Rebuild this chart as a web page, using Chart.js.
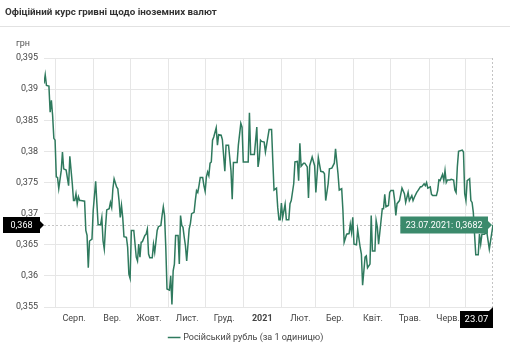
<!DOCTYPE html>
<html>
<head>
<meta charset="utf-8">
<script src="https://cdn.jsdelivr.net/npm/chart.js@4.4.1/dist/chart.umd.min.js"></script>
<style>
  body { margin: 0; background: #fff; font-family: Roboto, sans-serif; }
  #wrap { position: relative; width: 510px; height: 350px; }
  canvas { position: absolute; left: 0; top: 0; }
  #title { position: absolute; left: 5px; top: 6px; font-size: 9.8px; font-weight: bold; color: #333; }
  #sep { position: absolute; left: 0; top: 26px; width: 510px; height: 1px; background: #e2e2e2; }
</style>
</head>
<body>
<div id="wrap">
  <canvas id="rateChart" width="510" height="350"></canvas>
  <div id="title">Офіційний курс гривні щодо іноземних валют</div>
  <div id="sep"></div>
</div>
<script>
// days since startDate (23.07.2020) and the NBU rate for 1 RUB on that day
const startDate = '2020-07-23';
const days = [
  0, 1, 2, 4, 5, 6, 7, 8, 9, 10,
  11, 12, 14, 15, 16, 18, 20, 21, 23, 24,
  25, 26, 27, 28, 29, 30, 33, 34, 35, 36,
  37, 39, 40, 42, 43, 44, 46, 47, 48, 49,
  50, 51, 53, 54, 55, 56, 57, 59, 60, 61,
  62, 63, 64, 65, 67, 68, 69, 70, 71, 73,
  75, 76, 77, 78, 79, 80, 82, 83, 84, 85,
  86, 88, 89, 90, 92, 93, 95, 96, 97, 98,
  99, 100, 102, 103, 104, 105, 106, 107, 109, 110,
  111, 112, 113, 114, 115, 116, 118, 119, 120, 122,
  123, 124, 125, 126, 127, 129, 130, 131, 132, 133,
  134, 135, 136, 137, 138, 140, 141, 142, 144, 145,
  147, 148, 150, 152, 153, 154, 157, 158, 160, 161,
  162, 164, 166, 167, 168, 171, 173, 174, 175, 176,
  177, 179, 180, 182, 183, 185, 186, 187, 189, 190,
  191, 192, 193, 194, 196, 197, 199, 200, 201, 203,
  204, 206, 207, 208, 209, 211, 212, 214, 215, 216,
  218, 220, 221, 223, 225, 227, 228, 229, 231, 232,
  234, 236, 237, 239, 240, 242, 243, 244, 246, 248,
  249, 250, 251, 252, 254, 255, 257, 258, 259, 261,
  262, 263, 265, 266, 267, 269, 270, 271, 272, 274,
  275, 276, 277, 278, 280, 281, 282, 284, 285, 286,
  287, 289, 291, 293, 294, 296, 297, 299, 300, 301,
  303, 304, 306, 307, 309, 310, 311, 312, 314, 315,
  316, 319, 320, 321, 322, 324, 325, 326, 327, 328,
  330, 331, 333, 334, 335, 336, 337, 340, 341, 342,
  343, 344, 346, 347, 348, 349, 350, 351, 353, 354,
  355, 356, 358, 360, 362, 365
];
const rates = [
  0.3909, 0.3923, 0.3906, 0.3905, 0.3863, 0.3882, 0.3858, 0.3821, 0.3818, 0.3759,
  0.3758, 0.3740, 0.3769, 0.3799, 0.3772, 0.3770, 0.3745, 0.3792, 0.3748, 0.3721,
  0.3721, 0.3732, 0.3716, 0.3727, 0.3721, 0.3721, 0.3720, 0.3673, 0.3665, 0.3613,
  0.3656, 0.3659, 0.3705, 0.3752, 0.3716, 0.3682, 0.3682, 0.3694, 0.3656, 0.3643,
  0.3678, 0.3706, 0.3708, 0.3718, 0.3710, 0.3740, 0.3756, 0.3743, 0.3740, 0.3721,
  0.3694, 0.3713, 0.3694, 0.3663, 0.3662, 0.3646, 0.3603, 0.3596, 0.3673, 0.3673,
  0.3630, 0.3624, 0.3651, 0.3630, 0.3654, 0.3655, 0.3665, 0.3667, 0.3675, 0.3635,
  0.3629, 0.3629, 0.3651, 0.3638, 0.3673, 0.3679, 0.3681, 0.3697, 0.3711, 0.3697,
  0.3646, 0.3579, 0.3577, 0.3600, 0.3554, 0.3608, 0.3619, 0.3665, 0.3665, 0.3619,
  0.3697, 0.3681, 0.3678, 0.3662, 0.3648, 0.3624, 0.3675, 0.3684, 0.3700, 0.3702,
  0.3721, 0.3737, 0.3734, 0.3745, 0.3758, 0.3758, 0.3745, 0.3736, 0.3759, 0.3767,
  0.3761, 0.3781, 0.3783, 0.3818, 0.3823, 0.3838, 0.3810, 0.3827, 0.3826, 0.3819,
  0.3768, 0.3810, 0.3810, 0.3769, 0.3723, 0.3782, 0.3782, 0.3810, 0.3845, 0.3839,
  0.3783, 0.3783, 0.3783, 0.3862, 0.3795, 0.3795, 0.3839, 0.3775, 0.3788, 0.3818,
  0.3816, 0.3815, 0.3799, 0.3823, 0.3835, 0.3835, 0.3785, 0.3738, 0.3741, 0.3710,
  0.3690, 0.3690, 0.3717, 0.3694, 0.3715, 0.3690, 0.3690, 0.3716, 0.3721, 0.3748,
  0.3783, 0.3784, 0.3753, 0.3813, 0.3776, 0.3781, 0.3781, 0.3775, 0.3725, 0.3777,
  0.3791, 0.3777, 0.3734, 0.3790, 0.3768, 0.3767, 0.3764, 0.3721, 0.3748, 0.3772,
  0.3773, 0.3781, 0.3804, 0.3764, 0.3738, 0.3740, 0.3705, 0.3654, 0.3667, 0.3668,
  0.3683, 0.3670, 0.3694, 0.3651, 0.3650, 0.3674, 0.3646, 0.3635, 0.3585, 0.3630,
  0.3632, 0.3613, 0.3619, 0.3697, 0.3640, 0.3640, 0.3689, 0.3678, 0.3651, 0.3689,
  0.3708, 0.3708, 0.3731, 0.3711, 0.3713, 0.3734, 0.3737, 0.3737, 0.3722, 0.3697,
  0.3716, 0.3721, 0.3741, 0.3732, 0.3718, 0.3734, 0.3721, 0.3729, 0.3721, 0.3726,
  0.3734, 0.3737, 0.3743, 0.3743, 0.3748, 0.3745, 0.3750, 0.3741, 0.3743, 0.3731,
  0.3729, 0.3729, 0.3737, 0.3754, 0.3753, 0.3763, 0.3753, 0.3769, 0.3750, 0.3754,
  0.3754, 0.3755, 0.3754, 0.3738, 0.3734, 0.3775, 0.3800, 0.3802, 0.3799, 0.3732,
  0.3721, 0.3753, 0.3756, 0.3721, 0.3718, 0.3702, 0.3667, 0.3634, 0.3634, 0.3667,
  0.3651, 0.3667, 0.3667, 0.3670, 0.3643, 0.3682
];
const monthStarts = ['2020-08-01', '2020-09-01', '2020-10-01', '2020-11-01', '2020-12-01', '2021-01-01',
  '2021-02-01', '2021-03-01', '2021-04-01', '2021-05-01', '2021-06-01', '2021-07-01'];
const monthLabels = ['Серп.', 'Вер.', 'Жовт.', 'Лист.', 'Груд.', '2021', 'Лют.', 'Бер.', 'Квіт.', 'Трав.', 'Черв.', ''];
const seriesName = 'Російський рубль (за 1 одиницю)';
const unitLabel = 'грн';

const DAY = 86400000;
const t0 = Date.parse(startDate);
const monthDays = monthStarts.map(s => Math.round((Date.parse(s) - t0) / DAY));
const lastDay = days[days.length - 1];
const lastRate = rates[rates.length - 1];

function fmtDate(d, withYear) {
  const dt = new Date(t0 + d * DAY);
  const dd = String(dt.getUTCDate()).padStart(2, '0');
  const mm = String(dt.getUTCMonth() + 1).padStart(2, '0');
  return withYear ? dd + '.' + mm + '.' + dt.getUTCFullYear() : dd + '.' + mm;
}
const comma = v => String(v).replace('.', ',');

const lineGreen = '#2f7a5e';
const boxGreen = '#3b8a6c';

// crosshair + value flags at the last point
const markers = {
  id: 'markers',
  beforeDatasetsDraw(chart) {
    const { ctx, chartArea: a, scales: { x, y } } = chart;
    const px = Math.round(x.getPixelForValue(lastDay)) - 0.5;
    const py = Math.round(y.getPixelForValue(lastRate)) + 0.5;
    ctx.save();
    ctx.strokeStyle = '#c4c4c4';
    ctx.lineWidth = 1;
    ctx.setLineDash([2, 2]);
    ctx.beginPath();
    ctx.moveTo(a.left, py); ctx.lineTo(a.right, py);
    ctx.moveTo(px, a.top); ctx.lineTo(px, a.bottom);
    ctx.stroke();
    ctx.restore();
  },
  afterDraw(chart) {
    const { ctx, chartArea: a, scales: { x, y } } = chart;
    const px = x.getPixelForValue(lastDay);
    const py = Math.round(y.getPixelForValue(lastRate));
    ctx.save();
    ctx.font = '9px Roboto';
    ctx.textBaseline = 'middle';

    // unit above the y axis
    ctx.fillStyle = '#555';
    ctx.textAlign = 'left';
    ctx.fillText(unitLabel, 16, a.top - 14);
    ctx.textAlign = 'center';

    // y flag
    ctx.fillStyle = '#000';
    ctx.fillRect(3, py - 8, 37, 16);
    ctx.beginPath();
    ctx.moveTo(40, py - 4); ctx.lineTo(44, py); ctx.lineTo(40, py + 4);
    ctx.fill();
    ctx.fillStyle = '#fff';
    ctx.fillText(comma(lastRate.toFixed(3)), 21.5, py + 0.5);

    // x flag
    ctx.font = '9.5px Roboto';
    const xt = fmtDate(lastDay, false);
    ctx.fillStyle = '#000';
    ctx.fillRect(px - 33, a.bottom + 4, 33, 17);
    ctx.beginPath();
    ctx.moveTo(px - 4, a.bottom + 4); ctx.lineTo(px, a.bottom); ctx.lineTo(px, a.bottom + 4);
    ctx.fill();
    ctx.fillStyle = '#fff';
    ctx.fillText(xt, px - 16.5, a.bottom + 12.5);

    // tooltip
    ctx.font = '9px Roboto';
    const tt = fmtDate(lastDay, true) + ': ' + comma(lastRate);
    const w = ctx.measureText(tt).width + 11;
    const r = px - 5;
    ctx.fillStyle = boxGreen;
    ctx.fillRect(r - w, py - 8.5, w, 17);
    ctx.beginPath();
    ctx.moveTo(r, py - 4); ctx.lineTo(r + 4, py); ctx.lineTo(r, py + 4);
    ctx.fill();
    ctx.fillStyle = '#fff';
    ctx.fillText(tt, r - w / 2, py + 0.5);
    ctx.restore();
  }
};

new Chart(document.getElementById('rateChart'), {
  type: 'line',
  data: {
    datasets: [{
      label: seriesName,
      data: days.map((d, i) => ({ x: d, y: rates[i] })),
      borderColor: lineGreen,
      backgroundColor: lineGreen,
      borderWidth: 1.5,
      pointRadius: 0,
      tension: 0,
      fill: false
    }]
  },
  options: {
    responsive: false,
    animation: false,
    devicePixelRatio: 1,
    layout: { padding: { top: 58, right: 17, left: 0, bottom: -2 } },
    scales: {
      x: {
        type: 'linear',
        min: 0,
        max: lastDay,
        afterBuildTicks: axis => { axis.ticks = monthDays.map(v => ({ value: v })); },
        afterFit: axis => { axis.height = 22; },
        border: { display: false },
        grid: { color: '#e6e6e6', drawTicks: false },
        ticks: {
          autoSkip: false,
          maxRotation: 0,
          padding: 6,
          labelOffset: 19,
          color: '#444',
          font: c => ({ family: 'Roboto', size: 9, weight: c.tick && c.tick.label === '2021' ? 'bold' : 'normal' }),
          callback: (v, i) => monthLabels[i]
        }
      },
      y: {
        min: 0.355,
        max: 0.395,
        afterFit: axis => { axis.width = 44; },
        border: { display: false },
        grid: { color: '#e6e6e6', drawTicks: false },
        ticks: {
          stepSize: 0.005,
          padding: 6,
          color: '#444',
          font: { family: 'Roboto', size: 9 },
          callback: v => comma(+v.toFixed(3))
        }
      }
    },
    plugins: {
      legend: {
        position: 'bottom',
        labels: {
          usePointStyle: true,
          pointStyle: 'line',
          boxWidth: 12,
          color: '#444',
          font: { family: 'Roboto', size: 9 },
          padding: 4
        }
      },
      tooltip: { enabled: false }
    }
  },
  plugins: [markers]
});
</script>
</body>
</html>
